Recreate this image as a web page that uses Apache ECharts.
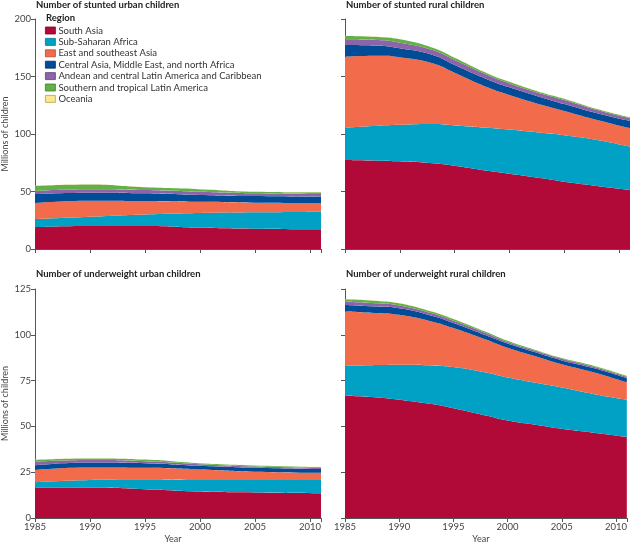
<!DOCTYPE html>
<html><head><meta charset="utf-8">
<script src="https://cdn.jsdelivr.net/npm/echarts@6/dist/echarts.min.js"></script>
<style>html,body{margin:0;padding:0;background:#fff}#c{width:630px;height:545px}</style>
</head><body><div id="c"></div>
<script>
const regions = ["South Asia","Sub-Saharan Africa","East and southeast Asia","Central Asia, Middle East, and north Africa","Andean and central Latin America and Caribbean","Southern and tropical Latin America","Oceania"];
const colors = ["#b20a38","#00a1c5","#f26b4b","#004c97","#8c64a8","#63b146","#fbe78f"];
const borders = ["#7a0626","#007a95","#b84a30","#00306a","#634080","#3f7f2a","#b8a24a"];
const titles = ["Number of stunted urban children","Number of stunted rural children","Number of underweight urban children","Number of underweight rural children"];

// Stunted urban (millions)
const yearsSU = [1985,1990,1995,2000,2005,2011];
const stuntedUrban = [
  [19,20,20,18.5,17.7,17.1],
  [7,8,10,12.8,14.2,15.4],
  [14,14,11.7,9.7,8.4,7.2],
  [7.8,7,6.7,6,5.7,5.8],
  [2.7,3,2.9,2.8,2.4,2.3],
  [4.3,4,2.3,2.2,1.4,1.5],
  [0.2,0.2,0.2,0.2,0.2,0.2]
];
// Stunted rural
const yearsSR = [1985,1988,1990,1993,1995,1998,2000,2003,2005,2008,2011];
const stuntedRural = [
  [77.4,76.8,76.2,74.5,72.4,68,65.5,61.5,58.5,54.8,51.3],
  [28.1,30.4,31.8,34.2,35.1,37.5,38.5,39.5,40.4,40,37.7],
  [61.7,60.8,58.7,52.8,45.8,35.1,29.9,24.2,21.1,17.4,16],
  [10.2,8.8,7.8,7.2,6.7,6.9,6.7,6.4,6,5.8,6.3],
  [4.9,4.9,4.9,4.3,4.3,3.8,3.4,3.2,3.6,2.9,2.4],
  [2.9,2.6,2.9,2,2,1.4,1.5,1.1,1.1,0.8,0.8],
  [0.2,0.2,0.2,0.2,0.2,0.2,0.2,0.2,0.2,0.2,0.2]
];
// Underweight urban
const yearsUU = [1985,1990,1995,2000,2005,2011];
const underweightUrban = [
  [16.6,16.6,15.7,14.4,13.9,13.5],
  [2.9,4.1,5.4,6.3,6.8,7.2],
  [6.8,6.9,6.3,5.8,4.6,4.0],
  [2.5,2.7,2.5,2.0,2.1,2.0],
  [1.9,1.3,1.1,0.9,0.7,0.7],
  [1.1,0.9,0.9,0.5,0.6,0.4],
  [0.1,0.1,0.1,0.1,0.1,0.1]
];
// Underweight rural
const yearsUR = [1985,1988,1990,1993,1995,1998,2000,2003,2005,2008,2011];
const underweightRural = [
  [66.7,65.8,64.6,62.2,59.9,55.9,53.2,50.5,48.7,46.5,44.2],
  [16.3,17.7,19.1,21.1,22.5,23.5,23.5,22.9,22.5,21.1,20.4],
  [29.7,28.3,27.2,24,21.3,18,16.2,14.1,12.7,11.8,9.4],
  [3.6,3.6,3.6,3.1,2.7,2.3,2.3,2.1,2.1,2.3,2.3],
  [1.8,1.8,1.5,1.4,1.3,1.3,0.9,0.9,0.9,0.7,0.7],
  [1.3,1.3,1.2,0.9,0.9,0.6,0.6,0.4,0.4,0.6,0.6],
  [0.1,0.1,0.1,0.1,0.1,0.1,0.1,0.1,0.1,0.1,0.1]
];
const yTicks = {stunted:{max:200,interval:50}, underweight:{max:125,interval:25}};

const panels = [
  {years:yearsSU, vals:stuntedUrban, y:yTicks.stunted},
  {years:yearsSR, vals:stuntedRural, y:yTicks.stunted},
  {years:yearsUU, vals:underweightUrban, y:yTicks.underweight},
  {years:yearsUR, vals:underweightRural, y:yTicks.underweight}
];
const FONT = "Lato";
const axisCol = "#555";
const grids = [
  {left:35, top:19, width:286, height:230},
  {left:345, top:19, width:286, height:230},
  {left:35, top:289, width:286, height:231},
  {left:345, top:289, width:286, height:231}
];
const xAxes = [], yAxes = [], series = [];
panels.forEach((p,i)=>{
  const bottom = i>=2, left = i%2===0;
  xAxes.push({type:'value', gridIndex:i, min:1985, max:2011, interval:5,
    name: bottom ? 'Year' : '', nameLocation:'middle', nameGap:17,
    nameTextStyle:{fontFamily:FONT, fontSize:9, color:'#444', padding:[0,10,0,0]},
    axisLine:{show:true, lineStyle:{color:axisCol, width:1}},
    axisTick:{show:true, length:4, lineStyle:{color:axisCol}},
    axisLabel:{show:bottom, fontFamily:FONT, fontSize:9.5, color:'#444', margin:4,
      formatter:v=> v<=2010 ? String(v) : ''},
    splitLine:{show:false}});
  yAxes.push({type:'value', gridIndex:i, min:0, max:p.y.max, interval:p.y.interval,
    name: left ? 'Millions of children' : '', nameLocation:'middle', nameGap:25,
    nameTextStyle:{fontFamily:FONT, fontSize:9, color:'#444'},
    axisLine:{show:true, lineStyle:{color:axisCol, width:1}},
    axisTick:{show:true, length:4, lineStyle:{color:axisCol}},
    axisLabel:{show:left, fontFamily:FONT, fontSize:9.5, color:'#444', margin:4},
    splitLine:{show:false}});
  p.vals.forEach((arr,k)=>{
    series.push({type:'line', name:regions[k], xAxisIndex:i, yAxisIndex:i, stack:'s'+i,
      // value first so the stack is computed on the value (y) dimension
      data: p.years.map((yr,j)=>[arr[j], yr]),
      encode:{x:1, y:0},
      smooth:0.5, showSymbol:false, symbol:'none',
      lineStyle:{width:0}, areaStyle:{color:colors[k], opacity:1},
      itemStyle:{color:colors[k]}, z:2, silent:true, animation:false});
  });
});
const chart = echarts.init(document.getElementById('c'), null, {renderer:'canvas'});
chart.setOption({
  animation:false,
  color:colors,
  title: titles.map((t,i)=>({text:t, left: (i%2===0?36:346), top:(i<2?0:269), padding:0,
    textStyle:{fontFamily:FONT, fontSize:9.5, fontWeight:'bold', color:'#222'}})).concat([
    {text:'Region', left:46, top:13, padding:0, textStyle:{fontFamily:FONT, fontSize:9.5, fontWeight:'bold', color:'#222'}}]),
  legend:{orient:'vertical', left:45, top:25, itemWidth:10, itemHeight:7, itemGap:0.4, padding:0,
    icon:'rect', textStyle:{fontFamily:FONT, fontSize:9.5, lineHeight:11, color:'#333', padding:[0,0,0,-2]},
    data: regions.map((r,k)=>({name:r, itemStyle:{color:colors[k], borderColor:borders[k], borderWidth:0.8}})),
    selectedMode:false},
  grid:grids,
  xAxis:xAxes, yAxis:yAxes, series:series
});
</script></body></html>
